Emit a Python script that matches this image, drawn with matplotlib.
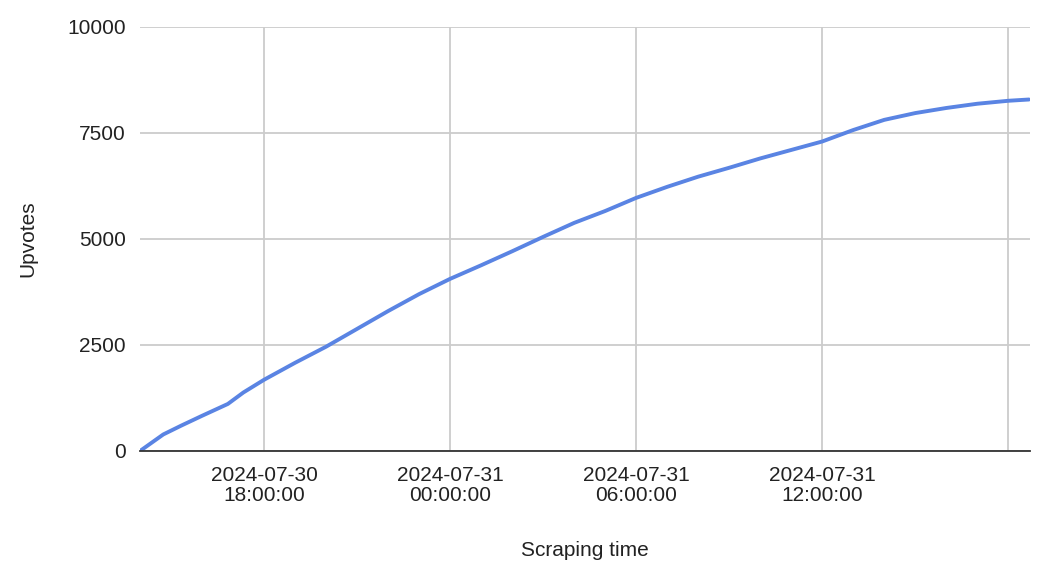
import pandas as pd
import matplotlib
matplotlib.use("Agg")
import matplotlib.pyplot as plt

plt.rcParams["font.family"] = ["Liberation Sans", "DejaVu Sans"]

# -----------------------------
# Data
# -----------------------------
times = [
    "2024-07-30 14:00", "2024-07-30 14:45", "2024-07-30 15:20", "2024-07-30 16:00",
    "2024-07-30 16:50", "2024-07-30 17:20", "2024-07-30 18:00", "2024-07-30 19:00",
    "2024-07-30 20:00", "2024-07-30 21:00", "2024-07-30 22:00", "2024-07-30 23:00",
    "2024-07-31 00:00", "2024-07-31 01:00", "2024-07-31 02:00", "2024-07-31 03:00",
    "2024-07-31 04:00", "2024-07-31 05:00", "2024-07-31 06:00", "2024-07-31 07:00",
    "2024-07-31 08:00", "2024-07-31 09:00", "2024-07-31 10:00", "2024-07-31 11:00",
    "2024-07-31 12:00", "2024-07-31 13:00", "2024-07-31 14:00", "2024-07-31 15:00",
    "2024-07-31 16:00", "2024-07-31 17:00", "2024-07-31 18:00", "2024-07-31 18:40",
]
upvotes = [
    0, 390, 600, 830,
    1110, 1380, 1680, 2080,
    2460, 2880, 3300, 3700,
    4060, 4380, 4710, 5050,
    5380, 5660, 5970, 6230,
    6470, 6680, 6900, 7100,
    7300, 7570, 7810, 7970,
    8090, 8190, 8260, 8290,
]
tick_times = ["2024-07-30 18:00", "2024-07-31 00:00", "2024-07-31 06:00",
              "2024-07-31 12:00", "2024-07-31 18:00"]
tick_labels = ["2024-07-30\n18:00:00", "2024-07-31\n00:00:00", "2024-07-31\n06:00:00",
               "2024-07-31\n12:00:00", ""]
y_ticks = [0, 2500, 5000, 7500, 10000]

x = pd.to_datetime(times)

# -----------------------------
# Plot
# -----------------------------
fig = plt.figure(figsize=(10.42, 5.72), dpi=100)
ax = fig.add_axes([140 / 1042, (572 - 451) / 572, 890 / 1042, 424 / 572])

ax.plot(x, upvotes, color="#5a84e3", linewidth=2.8,
        solid_capstyle="round", solid_joinstyle="round")

ax.set_xlim(pd.Timestamp("2024-07-30 14:00"), pd.Timestamp("2024-07-31 18:42"))
ax.set_ylim(0, 10000)

ax.set_xticks(pd.to_datetime(tick_times))
ax.set_xticklabels(tick_labels, fontsize=15, linespacing=1.05)
ax.set_yticks(y_ticks)
ax.set_yticklabels([str(v) for v in y_ticks], fontsize=15)

ax.grid(True, color="#cccccc", linewidth=1.3)
ax.set_axisbelow(True)
ax.tick_params(length=0, colors="#222222")
ax.tick_params(axis="x", pad=11)
ax.tick_params(axis="y", pad=10)

for side in ["top", "right", "left"]:
    ax.spines[side].set_visible(False)
ax.spines["bottom"].set_color("#333333")
ax.spines["bottom"].set_linewidth(1.3)

ax.set_xlabel("Scraping time", fontsize=15, color="#222222", labelpad=26)
ax.set_ylabel("Upvotes", fontsize=15, color="#222222", labelpad=22)

fig.savefig("out.png", dpi=100, facecolor="white")
